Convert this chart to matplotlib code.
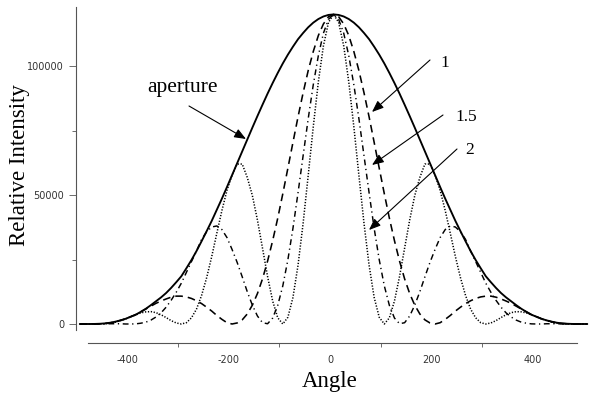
import matplotlib
matplotlib.use("Agg")
import matplotlib.pyplot as plt
from matplotlib.ticker import FixedLocator, NullFormatter

plt.rcParams['lines.scale_dashes'] = False

# ---- data (angle samples and intensities) ----
angle = [-493, -483, -473, -463, -453, -443, -433, -423, -413, -403,
         -393, -383, -373, -363, -353, -343, -333, -323, -313, -303,
         -293, -283, -273, -263, -253, -243, -233, -223, -213, -203,
         -193, -183, -173, -163, -153, -143, -133, -123, -113, -103,
         -93, -83, -73, -63, -53, -43, -33, -23, -13, -3,
         7,
         17, 27, 37, 47, 57, 67, 77, 87, 97, 107,
         117, 127, 137, 147, 157, 167, 177, 187, 197, 207,
         217, 227, 237, 247, 257, 267, 277, 287, 297, 307,
         317, 327, 337, 347, 357, 367, 377, 387, 397, 407,
         417, 427, 437, 447, 457, 467, 477, 487, 497, 507]

aperture = [0, 0, 0, 30, 100, 250, 500, 900, 1400, 2000,
            2800, 3600, 4700, 5900, 7300, 8800, 10300, 12000, 14000, 16200,
            18500, 21600, 24800, 28300, 32100, 36000, 40000, 44300, 48600, 53100,
            57700, 62300, 66900, 71500, 76100, 80600, 85000, 89300, 93400, 97300,
            101000, 104400, 107500, 110400, 112800, 115000, 116800, 118200, 119200, 119800,
            120000,
            119800, 119200, 118200, 116800, 115000, 112800, 110400, 107500, 104400, 101000,
            97300, 93400, 89300, 85000, 80600, 76100, 71500, 66900, 62300, 57700,
            53100, 48600, 44300, 40000, 36000, 32100, 28300, 24800, 21600, 18500,
            16200, 14000, 12000, 10300, 8800, 7300, 5900, 4700, 3600, 2800,
            2000, 1400, 900, 500, 250, 100, 30, 0, 0, 0]

sep_1 = [0, 0, 0, 20, 80, 210, 450, 850, 1400, 2000,
         2800, 3600, 4700, 5800, 6900, 8000, 8900, 9700, 10400, 10800,
         10800, 10500, 9900, 9000, 7900, 6500, 5000, 3300, 1800, 500,
         0, 400, 1600, 3900, 7300, 11800, 17500, 24400, 32300, 41000,
         50500, 60400, 70400, 80300, 89600, 98200, 105600, 111800, 116300, 119100,
         120000,
         119100, 116300, 111800, 105600, 98200, 89600, 80300, 70400, 60400, 50500,
         41000, 32300, 24400, 17500, 11800, 7300, 3900, 1600, 400, 0,
         500, 1800, 3300, 5000, 6500, 7900, 9000, 9900, 10500, 10800,
         10800, 10400, 9700, 8900, 8000, 6900, 5800, 4700, 3600, 2800,
         2000, 1400, 850, 450, 210, 80, 20, 0, 0, 0]

sep_1_5 = [0, 0, 0, 0, 40, 80, 100, 100, 100, 0,
           0, 50, 300, 700, 1500, 2700, 4300, 6500, 9200, 12300,
           15800, 20000, 24200, 28300, 32800, 35800, 37600, 38000, 36600, 33500,
           28900, 23900, 18300, 12500, 7300, 3100, 500, 100, 2300, 7200,
           14800, 24900, 37100, 50900, 65200, 79500, 92700, 104000, 112700, 118100,
           120000,
           118100, 112700, 104000, 92700, 79500, 65200, 50900, 37100, 24900, 14800,
           7200, 2300, 100, 500, 3100, 7300, 12500, 18300, 23900, 28900,
           33500, 36600, 38000, 37600, 35800, 32800, 28300, 24200, 20000, 15800,
           12300, 9200, 6500, 4300, 2700, 1500, 700, 300, 50, 0,
           0, 100, 100, 100, 80, 40, 0, 0, 0, 0]

sep_2 = [0, 0, 0, 0, 0, 100, 300, 700, 1300, 1950,
         2800, 3500, 4300, 4700, 4800, 4400, 3600, 2500, 1300, 400,
         0, 500, 2400, 5800, 11100, 18000, 26200, 35200, 44000, 51800,
         57700, 62000, 62000, 56800, 49800, 40300, 29400, 18400, 8900, 2400,
         0, 2600, 10300, 22800, 39000, 57500, 76400, 93800, 107800, 116900,
         120000,
         116900, 107800, 93800, 76400, 57500, 39000, 22800, 10300, 2600, 0,
         2400, 8900, 18400, 29400, 40300, 49800, 56800, 62000, 62000, 57700,
         51800, 44000, 35200, 26200, 18000, 11100, 5800, 2400, 500, 0,
         400, 1300, 2500, 3600, 4400, 4800, 4700, 4300, 3500, 2800,
         1950, 1300, 700, 300, 100, 0, 0, 0, 0, 0]

x_tick_values = [-400, -200, 0, 200, 400]
x_minor_values = [-300, -100, 100, 300]
y_tick_values = [0, 50000, 100000]
y_minor_values = [25000, 75000]

W, H = 590, 396
fig = plt.figure(figsize=(W / 100, H / 100), dpi=100)

def fx(px):
    return px / W

def fy(py):
    return 1 - py / H

ax = fig.add_axes([fx(76), fy(330), fx(590) - fx(76), fy(7) - fy(330)])

ax.plot(angle, aperture, color='black', lw=1.35, solid_capstyle='round')
ax.plot(angle, sep_1, color='black', lw=1.15, linestyle=(0, (5.5, 3.6)))
ax.plot(angle, sep_1_5, color='black', lw=1.05, linestyle=(0, (4.2, 2.6, 0.9, 2.6)))
ax.plot(angle, sep_2, color='black', lw=1.1, linestyle=(0, (0.9, 1.2)))

ax.set_xlim(-500.5, 512.3)
ax.set_ylim(-2326, 122870)

for s in ['top', 'right']:
    ax.spines[s].set_visible(False)
ax.spines['left'].set_linewidth(0.8)
ax.spines['left'].set_color('#555555')
ax.spines['bottom'].set_position(('outward', 9.4))
ax.spines['bottom'].set_bounds(-477, 487)
ax.spines['bottom'].set_linewidth(0.8)
ax.spines['bottom'].set_color('#555555')

ax.yaxis.set_major_locator(FixedLocator(y_tick_values))
ax.yaxis.set_minor_locator(FixedLocator(y_minor_values))
ax.set_yticklabels([str(v) for v in y_tick_values])
ax.yaxis.set_minor_formatter(NullFormatter())
ax.tick_params(axis='y', which='major', direction='out', length=5, width=0.6,
               color='#555555', pad=3.5, labelsize=7, labelcolor='#333333')
ax.tick_params(axis='y', which='minor', direction='out', length=3, width=0.6,
               color='#555555')

ax.xaxis.set_major_locator(FixedLocator(x_tick_values))
ax.xaxis.set_minor_locator(FixedLocator(x_minor_values))
ax.set_xticklabels([str(v) for v in x_tick_values])
ax.xaxis.set_minor_formatter(NullFormatter())
ax.tick_params(axis='x', which='major', direction='out', length=0, width=0.6,
               pad=8.5, labelsize=7, labelcolor='#333333')
ax.tick_params(axis='x', which='minor', direction='out', length=3, width=0.6,
               color='#555555')
for lab in ax.get_xticklabels() + ax.get_yticklabels():
    lab.set_family('DejaVu Sans')

serif = 'Liberation Serif'
fig.text(fx(330), fy(382), 'Angle', ha='center', va='center',
         family=serif, fontsize=16.5)
fig.text(fx(20), fy(165), 'Relative Intensity', ha='center', va='center',
         rotation=90, family=serif, fontsize=16.5)

arrow_kw = dict(arrowstyle='-|>,head_length=0.7,head_width=0.28',
                color='black', lw=0.8, mutation_scale=10, shrinkA=0, shrinkB=0)

fig.text(fx(147), fy(92), 'aperture', ha='left', va='baseline',
         family=serif, fontsize=15.5)
ax.annotate('', xy=(fx(246), fy(139)), xycoords='figure fraction',
            xytext=(fx(189), fy(106)), textcoords='figure fraction',
            arrowprops=arrow_kw)

fig.text(fx(440), fy(67), '1', ha='left', va='baseline',
         family=serif, fontsize=12.5)
ax.annotate('', xy=(fx(372), fy(112)), xycoords='figure fraction',
            xytext=(fx(430), fy(60)), textcoords='figure fraction',
            arrowprops=arrow_kw)

fig.text(fx(455), fy(121), '1.5', ha='left', va='baseline',
         family=serif, fontsize=12.5)
ax.annotate('', xy=(fx(372), fy(165)), xycoords='figure fraction',
            xytext=(fx(443), fy(115)), textcoords='figure fraction',
            arrowprops=arrow_kw)

fig.text(fx(465), fy(154), '2', ha='left', va='baseline',
         family=serif, fontsize=12.5)
ax.annotate('', xy=(fx(369), fy(230)), xycoords='figure fraction',
            xytext=(fx(457), fy(149)), textcoords='figure fraction',
            arrowprops=arrow_kw)

fig.savefig('out.png', dpi=100)
